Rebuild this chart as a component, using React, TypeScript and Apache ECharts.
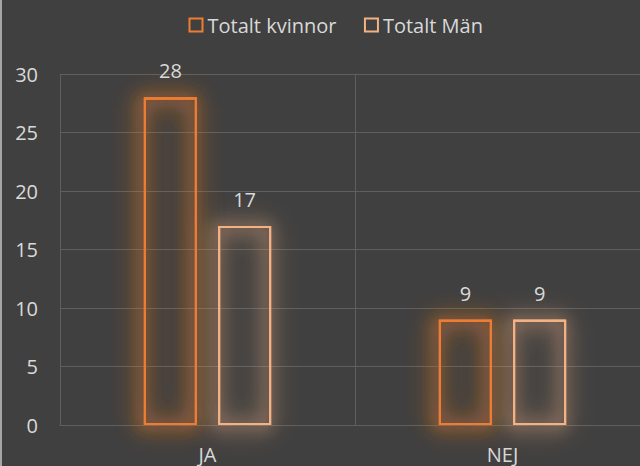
import React, { useEffect, useRef } from "react";
import * as echarts from "echarts";

const categories = ["JA", "NEJ"];
const seriesNames = ["Totalt kvinnor", "Totalt Män"];
const kvinnor = [28, 9];
const man = [17, 9];
const colors = ["#ED7D31", "#F4B183"];
const glow = ["rgba(237,125,49,1)", "rgba(244,177,131,0.85)"];
const GLOW_LAYERS = 4;

export default function App() {
  const ref = useRef<HTMLDivElement>(null);
  useEffect(() => {
    const chart = echarts.init(ref.current!, null, { renderer: "svg" });
    const font = "'Open Sans', 'Noto Sans', sans-serif";
    const barStyle = (i: number, layer: number) => ({
      color: "none",
      borderColor: colors[i],
      borderWidth: 2,
      shadowBlur: 14 + layer * 6,
      shadowOffsetX: -3,
      shadowOffsetY: 1,
      shadowColor: glow[i],
    });
    const mk = (i: number, data: number[]) => ({
      name: seriesNames[i],
      type: "bar",
      data,
      barWidth: 53,
      barGap: "40%",
      z: 3,
      itemStyle: barStyle(i, 0),
      label: {
        show: true,
        position: "top",
        distance: 15,
        color: "#D9D9D9",
        fontSize: 20,
        fontFamily: font,
      },
    });
    const mkGlow = (i: number, data: number[], layer: number) => ({
      name: seriesNames[i] + " glöd " + layer,
      type: "bar",
      data,
      xAxisIndex: layer,
      barWidth: 53,
      barGap: "40%",
      z: 1,
      silent: true,
      label: { show: false },
      itemStyle: barStyle(i, layer),
    });
    const glowSeries: any[] = [];
    const hiddenAxes: any[] = [];
    for (let l = 1; l < GLOW_LAYERS; l++) {
      hiddenAxes.push({ type: "category", data: categories, show: false });
      glowSeries.push(mkGlow(0, kvinnor, l), mkGlow(1, man, l));
    }
    chart.setOption({
      animation: false,
      backgroundColor: "#404040",
      textStyle: { fontFamily: font },
      graphic: [
        {
          type: "line",
          shape: { x1: 1, y1: 0, x2: 1, y2: 466 },
          style: { stroke: "#A6A6A6", lineWidth: 2 },
          silent: true,
        },
      ],
      legend: {
        top: 10,
        left: 182,
        itemWidth: 13,
        itemHeight: 13,
        itemGap: 26,
        textStyle: { color: "#D9D9D9", fontSize: 20, fontFamily: font },
        data: seriesNames.map((n, i) => ({
          name: n,
          icon: "rect",
          itemStyle: {
            color: "none",
            borderColor: colors[i],
            borderWidth: 2,
            shadowBlur: 0,
            shadowOffsetX: 0,
            shadowOffsetY: 0,
            shadowColor: "rgba(0,0,0,0)",
          },
        })),
      },
      grid: { left: 60, width: 590, top: 74, bottom: 41, outerBoundsMode: "none" },
      xAxis: [
        {
          type: "category",
          data: categories,
          axisLine: { lineStyle: { color: "#5F5F5F", width: 1 } },
          axisTick: { show: false },
          splitLine: { show: true, lineStyle: { color: "#5F5F5F", width: 1 } },
          axisLabel: { color: "#D9D9D9", fontSize: 20, margin: 19, fontFamily: font },
        },
        ...hiddenAxes,
      ],
      yAxis: {
        type: "value",
        min: 0,
        max: 30,
        interval: 5,
        axisLine: { show: false },
        axisTick: { show: false },
        splitLine: { lineStyle: { color: "#5F5F5F", width: 1 } },
        axisLabel: { color: "#D9D9D9", fontSize: 20, margin: 22, fontFamily: font },
      },
      series: [mk(0, kvinnor), mk(1, man), ...glowSeries],
    });
    return () => chart.dispose();
  }, []);
  return (
    <div
      ref={ref}
      style={{ width: 640, height: 466, position: "absolute", left: 0, top: 0 }}
    />
  );
}
